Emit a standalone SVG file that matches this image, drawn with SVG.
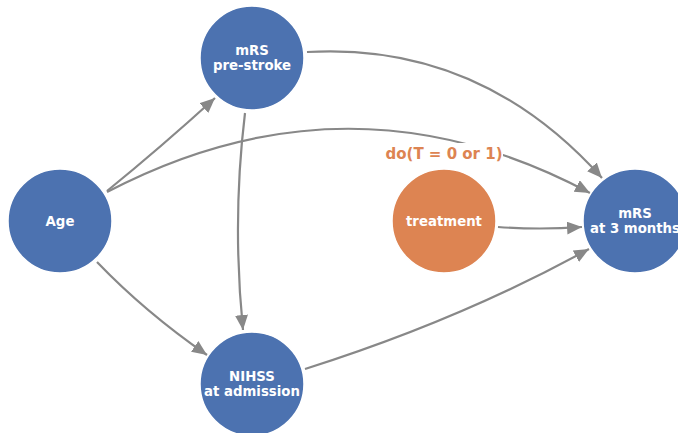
<svg xmlns="http://www.w3.org/2000/svg" width="678" height="433" viewBox="0 0 678 433">
<defs>
<marker id="arr" markerUnits="userSpaceOnUse" markerWidth="16" markerHeight="14" refX="15" refY="6.5" orient="auto">
<path d="M0,0 L15,6.5 L0,13 z" fill="#888888"/>
</marker>
<style>
.edge{fill:none;stroke:#888888;stroke-width:2.2;marker-end:url(#arr)}
.b{fill:#4C72B0;stroke:#ffffff;stroke-width:1.5}
.o{fill:#DD8452;stroke:#ffffff;stroke-width:1.5}
.t{font-family:"DejaVu Sans",sans-serif;font-weight:bold;font-size:13.3px;fill:#ffffff;text-anchor:middle}
.lab{font-family:"DejaVu Sans",sans-serif;font-weight:bold;font-size:15px;fill:#DD8452;text-anchor:middle}
</style>
</defs>
<rect width="678" height="433" fill="#ffffff"/>
<g id="connectors">
<path class="edge" d="M107,191 Q160,148 215,98"/>
<path class="edge" d="M97,262 Q145,312 207,355"/>
<path class="edge" d="M107,192 Q350,65 590,193"/>
<path class="edge" d="M307,52 Q480,42 602,178"/>
<path class="edge" d="M245,113 Q232,220 243,330"/>
<path class="edge" d="M305,369 Q460,320 589,249"/>
<path class="edge" d="M498,227 Q540,230 582,227"/>
</g>
<g id="age"><circle class="b" cx="60" cy="221" r="52"/><text class="t" x="60" y="225.5">Age</text></g>
<g id="mrs-pre"><circle class="b" cx="252" cy="58" r="52"/><text class="t" x="252" y="55">mRS</text><text class="t" x="252" y="70">pre-stroke</text></g>
<g id="nihss"><circle class="b" cx="252" cy="384" r="52"/><text class="t" x="252" y="381">NIHSS</text><text class="t" x="252" y="396">at admission</text></g>
<g id="treatment"><circle class="o" cx="444" cy="221" r="52"/><text class="t" x="444" y="225.5">treatment</text></g>
<g id="mrs-3m"><circle class="b" cx="635" cy="221" r="52"/><text class="t" x="635" y="218">mRS</text><text class="t" x="635" y="233">at 3 months</text></g>
<g id="do-label">
<rect x="384" y="143" width="119" height="20" fill="#ffffff"/>
<text class="lab" x="444" y="159">do(T = 0 or 1)</text>
</g>
</svg>
